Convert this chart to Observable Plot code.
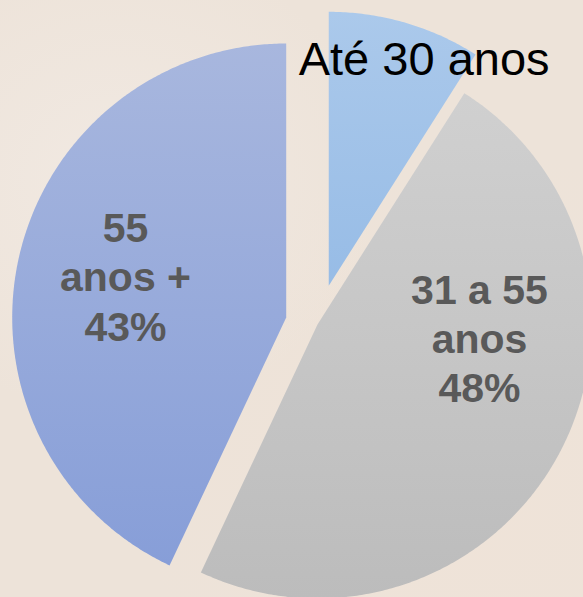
<!DOCTYPE html>
<html><head><meta charset="utf-8">
<script src="https://cdn.jsdelivr.net/npm/d3@7"></script>
<script src="https://cdn.jsdelivr.net/npm/@observablehq/plot@0.6"></script>
<style>
html,body{margin:0;padding:0;background:#ede3d9;}
body{width:583px;height:597px;overflow:hidden;
  background: radial-gradient(ellipse at 20% 30%, #f1e9e2 0%, rgba(241,233,226,0) 40%),
              radial-gradient(ellipse at 80% 80%, #efe3d8 0%, rgba(239,227,216,0) 50%), #ede3d9;}
#chart svg{display:block;}
</style></head><body>
<div id="chart"></div>
<script>
// ---- data ----
const categories = ["Até 30 anos", "31 a 55 anos", "55 anos +"];
const values = [9, 48, 43];
const labels = ["Até 30 anos", "31 a 55\nanos\n48%", "55\nanos +\n43%"];

// ---- styles / layout ----
const gradients = [["#abc9eb", "#97bce6"], ["#d0d0d0", "#bcbcbc"], ["#a8b7de", "#879ed8"]];
const explode = [0.147, 0, 0.117];          // in radius units, along the slice bisector
const labelRadius = [0.906, 0.593, 0.606];
const labelShift = [6.4, -24.3, 2.0];       // degrees from bisector
const labelColor = ["#000000", "#595959", "#595959"];
const labelWeight = ["normal", "bold", "bold"];
const labelSize = [47, 41, 41];
const W = 583, H = 597, pxPerUnit = 274, centerPx = [317, 324];

const arcs = d3.pie().sort(null).value(d => d)(values);

function pt(a, r, off) { return {x: off.x + r * Math.sin(a), y: off.y + r * Math.cos(a)}; }

const marks = [];
// gradient defs
marks.push(() => {
  const g = d3.create("svg:g");
  const defs = g.append("defs");
  gradients.forEach((c, i) => {
    const lg = defs.append("linearGradient").attr("id", "slice-grad-" + i)
      .attr("x1", 0).attr("y1", 0).attr("x2", 0).attr("y2", 1);
    lg.append("stop").attr("offset", "0%").attr("stop-color", c[0]);
    lg.append("stop").attr("offset", "100%").attr("stop-color", c[1]);
  });
  return g.node();
});

arcs.forEach((a, i) => {
  const mid = (a.startAngle + a.endAngle) / 2;
  const off = {x: explode[i] * Math.sin(mid), y: explode[i] * Math.cos(mid)};
  const pts = [{x: off.x, y: off.y}];
  const n = Math.max(2, Math.ceil((a.endAngle - a.startAngle) / (Math.PI / 360)));
  for (let k = 0; k <= n; k++) pts.push(pt(a.startAngle + (a.endAngle - a.startAngle) * k / n, 1, off));
  pts.push({x: off.x, y: off.y});
  marks.push(Plot.line(pts, {x: "x", y: "y", fill: "url(#slice-grad-" + i + ")", stroke: null, curve: "linear"}));
});

arcs.forEach((a, i) => {
  const mid = (a.startAngle + a.endAngle) / 2;
  const off = {x: explode[i] * Math.sin(mid), y: explode[i] * Math.cos(mid)};
  const la = mid + labelShift[i] * Math.PI / 180;
  const p = pt(la, labelRadius[i], off);
  marks.push(Plot.text([{...p, t: labels[i], c: categories[i]}], {
    x: "x", y: "y", text: "t",
    fontSize: labelSize[i], fontWeight: labelWeight[i], fill: labelColor[i],
    fontFamily: "'Liberation Sans', Arial, sans-serif",
    lineHeight: 1.2, textAnchor: "middle"
  }));
});

const chart = Plot.plot({
  width: W, height: H, margin: 0,
  x: {domain: [(0 - centerPx[0]) / pxPerUnit, (W - centerPx[0]) / pxPerUnit], axis: null},
  y: {domain: [(centerPx[1] - H) / pxPerUnit, centerPx[1] / pxPerUnit], axis: null},
  style: {background: "transparent", overflow: "visible"},
  marks
});
document.getElementById("chart").appendChild(chart);
</script>
</body></html>
